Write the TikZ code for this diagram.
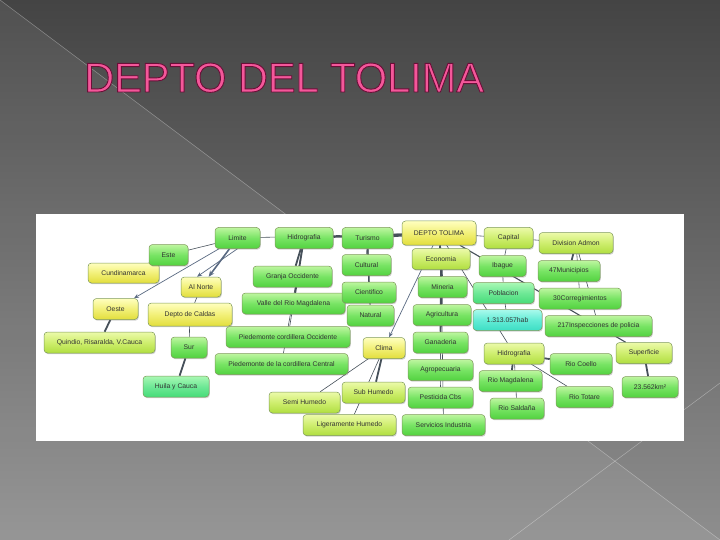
\documentclass[tikz,border=0pt]{standalone}
\usepackage{fontspec}
\setmainfont{Liberation Sans}
\usetikzlibrary{shadows,arrows.meta}
\definecolor{bgtop}{HTML}{444444}
\definecolor{bgbot}{HTML}{8E8E8E}
\definecolor{titlepink}{HTML}{F4579A}
\definecolor{edgec}{HTML}{46505A}
\definecolor{arrowc}{HTML}{5A6A82}
\definecolor{boxline}{HTML}{7E9A5A}
\pgfdeclarelayer{bg}
\pgfdeclarelayer{edges}
\pgfsetlayers{bg,edges,main}
\newcommand{\outlinetext}[1]{\special{pdf:literal direct 2 Tr 0.9 w 0.42 0.06 0.22 RG}#1\special{pdf:literal direct 0 Tr}}
\tikzset{
  box/.style={draw=boxline, line width=0.5pt, rounded corners=3.5pt, minimum height=21pt,
    inner sep=1pt, font=\fontsize{6.8}{7.5}\selectfont, text=black!80,
    drop shadow={opacity=0.35, shadow xshift=0.8pt, shadow yshift=-1.2pt}},
  ybox/.style={box, top color=yellow!25!white, bottom color={rgb,255:red,226;green,222;blue,60}, middle color={rgb,255:red,242;green,240;blue,120}},
  gbox/.style={box, top color={rgb,255:red,190;green,246;blue,160}, bottom color={rgb,255:red,82;green,210;blue,64}, middle color={rgb,255:red,120;green,228;blue,100}},
  ygbox/.style={box, top color={rgb,255:red,236;green,250;blue,170}, bottom color={rgb,255:red,176;green,222;blue,64}, middle color={rgb,255:red,206;green,238;blue,110}},
  mbox/.style={box, top color={rgb,255:red,170;green,248;blue,180}, bottom color={rgb,255:red,70;green,220;blue,120}, middle color={rgb,255:red,110;green,232;blue,150}},
  tbox/.style={box, top color={rgb,255:red,170;green,250;blue,236}, bottom color={rgb,255:red,60;green,222;blue,196}, middle color={rgb,255:red,100;green,236;blue,214}},
  thin/.style={draw=edgec, line width=0.6pt},
  thick/.style={draw=edgec, line width=1.8pt},
  mid/.style={draw=edgec, line width=1.1pt},
  arr/.style={draw=arrowc, line width=0.7pt, -{Stealth[length=5pt,width=4pt]}},
  arrthick/.style={draw=arrowc, line width=1.6pt, -{Stealth[length=6pt,width=5pt]}},
}
\begin{document}
\begin{tikzpicture}[x=1pt,y=-1pt]
\useasboundingbox (0,0) rectangle (720,540);
\begin{pgfonlayer}{bg}
  \shade[top color=bgtop, bottom color=bgbot] (0,0) rectangle (720,540);
  \fill[white, opacity=0.07] (0,0) -- (720,540) -- (0,540) -- cycle;
  \draw[white, opacity=0.35, line width=0.5pt] (0,0) -- (720,540);
  \draw[white, opacity=0.35, line width=0.5pt] (720,383) -- (509,540);
  \fill[white] (36,214) rectangle (684,441);
\end{pgfonlayer}

% title
\node[anchor=base west, inner sep=0pt, font=\fontsize{41.5}{44}\selectfont, text=titlepink] (title) at (84,92) {\outlinetext{DEPTO DEL TOLIMA}};

% nodes
\node[gbox, minimum width=45pt] (limite) at (237.5,238) {Limite};
\node[gbox, minimum width=58pt] (hid) at (304,238) {Hidrografia};
\node[gbox, minimum width=51pt] (tur) at (367.5,238) {Turismo};
\node[ybox, minimum width=74pt, minimum height=24pt] (depto) at (439,233) {DEPTO TOLIMA};
\node[ygbox, minimum width=49pt] (cap) at (508.5,238) {Capital};
\node[ygbox, minimum width=74pt] (div) at (576,243) {Division Admon};

\node[ybox, minimum width=71pt, minimum height=20pt] (cund) at (123.5,273) {Cundinamarca};
\node[gbox, minimum width=39pt] (este) at (168.5,255) {Este};
\node[ybox, minimum width=40pt, minimum height=20pt] (alnorte) at (201,287) {Al Norte};
\node[ybox, minimum width=45pt] (oeste) at (115.5,309) {Oeste};
\node[ybox, minimum width=84pt, minimum height=23pt] (caldas) at (190,314.5) {Depto de Caldas};
\node[ygbox, minimum width=111pt] (quin) at (99.5,342.5) {Quindio, Risaralda, V.Cauca};
\node[gbox, minimum width=36pt] (sur) at (189,347.5) {Sur};
\node[mbox, minimum width=66pt] (huila) at (176,386.5) {Huila y Cauca};

\node[gbox, minimum width=79pt] (granja) at (292.5,276.5) {Granja Occidente};
\node[gbox, minimum width=103pt] (valle) at (293.5,303.5) {Valle del Rio Magdalena};
\node[gbox, minimum width=124pt] (piedocc) at (288,337) {Piedemonte cordillera Occidente};
\node[gbox, minimum width=133pt] (piedcen) at (281.5,364) {Piedemonte de la cordillera Central};

\node[gbox, minimum width=49pt] (cult) at (366.5,265) {Cultural};
\node[gbox, minimum width=47pt] (nat) at (370.5,315.5) {Natural};
\node[gbox, minimum width=54pt] (cien) at (369,292.5) {Cientifico};

\node[ybox, minimum width=42pt] (clima) at (384,348) {Clima};
\node[ygbox, minimum width=63pt] (sub) at (373.5,392.5) {Sub Humedo};
\node[ygbox, minimum width=71pt] (semi) at (304.5,402.5) {Semi Humedo};
\node[ygbox, minimum width=93pt] (lig) at (349.5,425) {Ligeramente Humedo};

\node[ygbox, minimum width=58pt] (eco) at (441,259) {Economia};
\node[gbox, minimum width=49pt] (min) at (442.5,287) {Mineria};
\node[gbox, minimum width=58pt] (agri) at (442,315) {Agricultura};
\node[gbox, minimum width=55pt] (gan) at (440.5,342.5) {Ganaderia};
\node[gbox, minimum width=65pt] (agro) at (440.5,370) {Agropecuaria};
\node[gbox, minimum width=65pt] (pest) at (440.5,397.5) {Pesticida Cbs};
\node[gbox, minimum width=83pt] (serv) at (443.5,425) {Servicios Industria};

\node[gbox, minimum width=47pt] (ibague) at (502.5,266) {Ibague};
\node[mbox, minimum width=61pt] (pob) at (503.5,293) {Poblacion};
\node[tbox, minimum width=69pt] (hab) at (507.5,320) {1.313.057hab};
\node[ygbox, minimum width=60pt] (hid2) at (514,353.5) {Hidrografia};
\node[gbox, minimum width=63pt] (rmag) at (510.5,381) {Rio Magdalena};
\node[gbox, minimum width=54pt] (rsal) at (517,408.5) {Rio Saldaña};

\node[gbox, minimum width=62pt] (mun) at (569,271) {47Municipios};
\node[gbox, minimum width=82pt] (corr) at (580,298.5) {30Corregimientos};
\node[gbox, minimum width=107pt] (insp) at (598.5,326) {217Inspecciones de policia};
\node[ygbox, minimum width=56pt] (sup) at (644,353) {Superficie};
\node[gbox, minimum width=62pt] (rcoe) at (581,364) {Rio Coello};
\node[gbox, minimum width=56pt] (km) at (650,387) {23.562km²};
\node[gbox, minimum width=57pt] (rtot) at (584.5,397) {Rio Totare};

% connectors
\begin{pgfonlayer}{edges}
  \draw[thin] (depto) -- (limite);
  \draw[thick] (depto) -- (hid);
  \draw[thick] (depto) -- (tur);
  \draw[thin] (limite) -- (este);
  \draw[thin] (este) -- (cund);
  \draw[arr] (limite) -- (oeste);
  \draw[thick] (oeste) -- (quin);
  \draw[arrthick] (limite) -- (alnorte);
  \draw[arr] (limite.south) -- ([xshift=-4pt]alnorte.north);
  \draw[thin] (alnorte) -- (caldas);
  \draw[thin] (caldas) -- (sur);
  \draw[thick] (sur) -- (huila);

  \draw[thick] (hid) -- (granja);
  \draw[thick] (hid) -- (valle);
  \draw[thin] (hid) -- (piedocc);
  \draw[thin] (hid) -- (piedcen);

  \draw[mid] (tur) -- (cult);
  \draw[mid] (tur) -- (cien);
  \draw[mid] (tur) -- (nat);

  \draw[arr] (depto) -- (clima);
  \draw[thick] (clima) -- (sub);
  \draw[thin] (clima) -- (semi);
  \draw[thin] (clima) -- (lig);

  \draw[thick] (depto) -- (eco);
  \draw[thick] (eco) -- (min);
  \draw[thick] (eco) -- (agri);
  \draw[thick] (eco) -- (gan);
  \draw[thin] (eco) -- (agro);
  \draw[thin] (eco) -- (pest);
  \draw[thin] (eco) -- (serv);

  \draw[thin] (depto) -- (cap);
  \draw[thin] (cap) -- (ibague);
  \draw[thin] (ibague) -- (pob);
  \draw[thin] (pob) -- (hab);
  \draw[mid] (depto) -- (sup);
  \draw[thin] (depto) -- (hid2);

  \draw[thin] (cap) -- (div);
  \draw[thick] (div) -- (mun);
  \draw[thin] (div) -- (corr);
  \draw[thin] (div) -- (insp);

  \draw[thick] (hid2) -- (rmag);
  \draw[thin] (hid2) -- (rsal);
  \draw[thick] (hid2) -- (rcoe);
  \draw[thin] (hid2) -- (rtot);
  \draw[thick] (sup) -- (km);
\end{pgfonlayer}
\end{tikzpicture}
\end{document}
